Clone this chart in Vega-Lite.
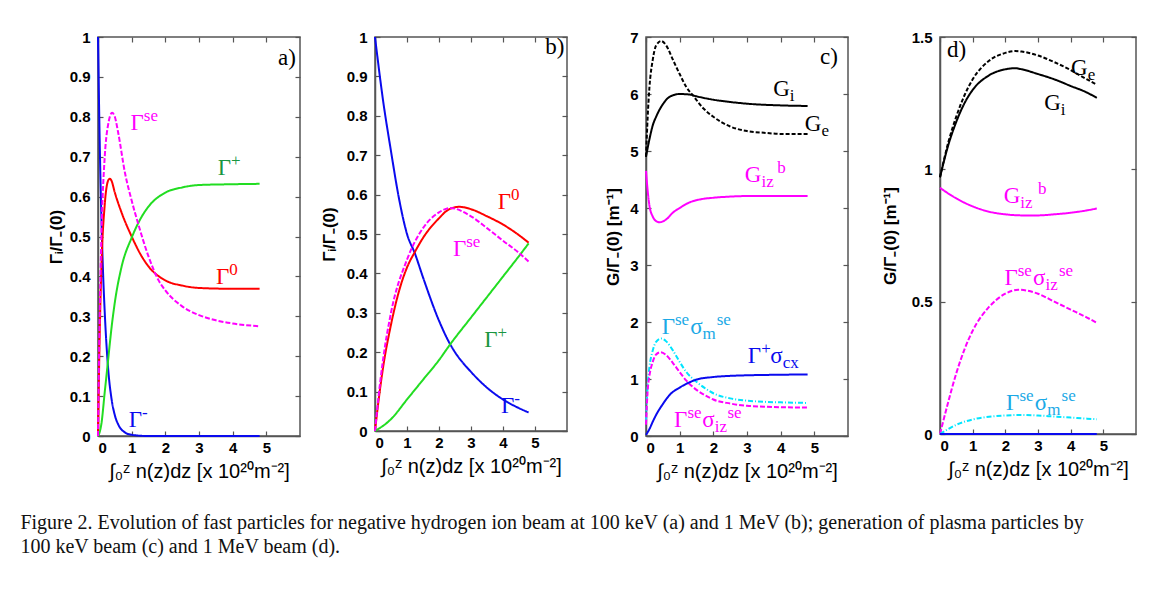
{
"$schema": "https://vega.github.io/schema/vega-lite/v6.json",
"background": "white",
"padding": {"left": 20, "top": 29, "right": 5, "bottom": 5},
"spacing": 34,
"title": {"text": ["Figure 2. Evolution of fast particles for negative hydrogen ion beam at 100 keV (a) and 1 MeV (b); generation of plasma particles by", "100 keV beam (c) and 1 MeV beam (d)."], "orient": "bottom", "anchor": "start", "font": "Liberation Serif", "fontSize": 20, "fontWeight": "normal", "color": "#111", "offset": 31, "lineHeight": 24, "dx": -26},
"config": {
  "view": {"stroke": "#555", "strokeWidth": 1.5},
  "axis": {"domainColor": "#555", "domainWidth": 1.5, "tickColor": "#555", "tickSize": -5, "tickWidth": 1.2, "grid": false, "labelFont": "Liberation Sans", "labelFontWeight": "bold", "labelFontSize": 15, "labelColor": "#000", "titleColor": "#000"},
  "axisX": {"titleFont": "Liberation Sans", "titleFontWeight": "normal", "titleFontSize": 20, "titlePadding": 6, "labelPadding": 9},
  "axisY": {"titleFont": "Liberation Sans", "titleFontWeight": "bold", "titleFontSize": 17, "labelPadding": 13}
},
"datasets": {
  "a": [
    {"s":"minus","x":0,"y":1},{"s":"minus","x":0.05,"y":0.74},{"s":"minus","x":0.1,"y":0.55},{"s":"minus","x":0.15,"y":0.41},{"s":"minus","x":0.2,"y":0.31},{"s":"minus","x":0.3,"y":0.17},{"s":"minus","x":0.4,"y":0.094},{"s":"minus","x":0.5,"y":0.052},{"s":"minus","x":0.6,"y":0.029},{"s":"minus","x":0.8,"y":0.009},{"s":"minus","x":1.0,"y":0.003},{"s":"minus","x":1.5,"y":0},{"s":"minus","x":2,"y":0},{"s":"minus","x":3,"y":0},{"s":"minus","x":4,"y":0},{"s":"minus","x":4.8,"y":0},
    {"s":"zero","x":0,"y":0},{"s":"zero","x":0.05,"y":0.25},{"s":"zero","x":0.1,"y":0.42},{"s":"zero","x":0.2,"y":0.58},{"s":"zero","x":0.3,"y":0.64},{"s":"zero","x":0.35,"y":0.645},{"s":"zero","x":0.4,"y":0.64},{"s":"zero","x":0.5,"y":0.61},{"s":"zero","x":0.7,"y":0.56},{"s":"zero","x":1.0,"y":0.5},{"s":"zero","x":1.3,"y":0.45},{"s":"zero","x":1.5,"y":0.425},{"s":"zero","x":2,"y":0.39},{"s":"zero","x":2.5,"y":0.377},{"s":"zero","x":3,"y":0.371},{"s":"zero","x":4,"y":0.369},{"s":"zero","x":4.8,"y":0.369},
    {"s":"plus","x":0,"y":0},{"s":"plus","x":0.05,"y":0.01},{"s":"plus","x":0.1,"y":0.03},{"s":"plus","x":0.2,"y":0.11},{"s":"plus","x":0.3,"y":0.19},{"s":"plus","x":0.4,"y":0.27},{"s":"plus","x":0.5,"y":0.335},{"s":"plus","x":0.7,"y":0.424},{"s":"plus","x":1.0,"y":0.497},{"s":"plus","x":1.3,"y":0.55},{"s":"plus","x":1.5,"y":0.575},{"s":"plus","x":2,"y":0.61},{"s":"plus","x":2.5,"y":0.623},{"s":"plus","x":3,"y":0.629},{"s":"plus","x":4,"y":0.631},{"s":"plus","x":4.8,"y":0.632},
    {"s":"se","x":0,"y":0},{"s":"se","x":0.05,"y":0.3},{"s":"se","x":0.1,"y":0.5},{"s":"se","x":0.2,"y":0.7},{"s":"se","x":0.3,"y":0.78},{"s":"se","x":0.42,"y":0.81},{"s":"se","x":0.5,"y":0.8},{"s":"se","x":0.6,"y":0.76},{"s":"se","x":0.8,"y":0.66},{"s":"se","x":1.0,"y":0.59},{"s":"se","x":1.2,"y":0.53},{"s":"se","x":1.5,"y":0.45},{"s":"se","x":1.8,"y":0.39},{"s":"se","x":2.0,"y":0.365},{"s":"se","x":2.5,"y":0.325},{"s":"se","x":3.0,"y":0.303},{"s":"se","x":3.5,"y":0.29},{"s":"se","x":4,"y":0.282},{"s":"se","x":4.8,"y":0.275}
  ],
  "b": [
    {"s":"minus","x":0,"y":1},{"s":"minus","x":0.25,"y":0.84},{"s":"minus","x":0.5,"y":0.71},{"s":"minus","x":0.75,"y":0.59},{"s":"minus","x":1,"y":0.5},{"s":"minus","x":1.25,"y":0.45},{"s":"minus","x":1.5,"y":0.39},{"s":"minus","x":2,"y":0.28},{"s":"minus","x":2.35,"y":0.22},{"s":"minus","x":2.5,"y":0.2},{"s":"minus","x":3,"y":0.15},{"s":"minus","x":3.5,"y":0.11},{"s":"minus","x":4,"y":0.08},{"s":"minus","x":4.5,"y":0.058},{"s":"minus","x":4.8,"y":0.047},
    {"s":"zero","x":0,"y":0},{"s":"zero","x":0.1,"y":0.07},{"s":"zero","x":0.25,"y":0.16},{"s":"zero","x":0.5,"y":0.27},{"s":"zero","x":0.75,"y":0.355},{"s":"zero","x":1,"y":0.415},{"s":"zero","x":1.25,"y":0.455},{"s":"zero","x":1.5,"y":0.49},{"s":"zero","x":2,"y":0.54},{"s":"zero","x":2.3,"y":0.562},{"s":"zero","x":2.63,"y":0.569},{"s":"zero","x":3,"y":0.563},{"s":"zero","x":3.5,"y":0.545},{"s":"zero","x":4,"y":0.524},{"s":"zero","x":4.5,"y":0.497},{"s":"zero","x":4.8,"y":0.478},
    {"s":"plus","x":0,"y":0},{"s":"plus","x":0.5,"y":0.03},{"s":"plus","x":1,"y":0.08},{"s":"plus","x":1.5,"y":0.13},{"s":"plus","x":2,"y":0.18},{"s":"plus","x":2.35,"y":0.22},{"s":"plus","x":3,"y":0.288},{"s":"plus","x":3.5,"y":0.34},{"s":"plus","x":4,"y":0.392},{"s":"plus","x":4.5,"y":0.444},{"s":"plus","x":4.8,"y":0.476},
    {"s":"se","x":0,"y":0},{"s":"se","x":0.1,"y":0.08},{"s":"se","x":0.25,"y":0.18},{"s":"se","x":0.5,"y":0.3},{"s":"se","x":1,"y":0.435},{"s":"se","x":1.5,"y":0.515},{"s":"se","x":2,"y":0.555},{"s":"se","x":2.35,"y":0.566},{"s":"se","x":3,"y":0.545},{"s":"se","x":3.5,"y":0.515},{"s":"se","x":4,"y":0.483},{"s":"se","x":4.5,"y":0.452},{"s":"se","x":4.8,"y":0.43}
  ],
  "c": [
    {"s":"Gi","x":0,"y":4.9},{"s":"Gi","x":0.1,"y":5.2},{"s":"Gi","x":0.2,"y":5.45},{"s":"Gi","x":0.3,"y":5.6},{"s":"Gi","x":0.5,"y":5.82},{"s":"Gi","x":0.7,"y":5.95},{"s":"Gi","x":1,"y":6.0},{"s":"Gi","x":1.3,"y":5.99},{"s":"Gi","x":1.5,"y":5.96},{"s":"Gi","x":2,"y":5.9},{"s":"Gi","x":2.5,"y":5.86},{"s":"Gi","x":3,"y":5.83},{"s":"Gi","x":4,"y":5.8},{"s":"Gi","x":4.8,"y":5.79},
    {"s":"Ge","x":0,"y":4.9},{"s":"Ge","x":0.05,"y":5.6},{"s":"Ge","x":0.1,"y":6.1},{"s":"Ge","x":0.2,"y":6.6},{"s":"Ge","x":0.3,"y":6.85},{"s":"Ge","x":0.45,"y":6.93},{"s":"Ge","x":0.6,"y":6.85},{"s":"Ge","x":0.8,"y":6.6},{"s":"Ge","x":1,"y":6.35},{"s":"Ge","x":1.2,"y":6.12},{"s":"Ge","x":1.4,"y":5.97},{"s":"Ge","x":1.7,"y":5.75},{"s":"Ge","x":2,"y":5.6},{"s":"Ge","x":2.5,"y":5.43},{"s":"Ge","x":3,"y":5.35},{"s":"Ge","x":3.5,"y":5.32},{"s":"Ge","x":4,"y":5.3},{"s":"Ge","x":4.8,"y":5.3},
    {"s":"Gizb","x":0,"y":4.65},{"s":"Gizb","x":0.05,"y":4.3},{"s":"Gizb","x":0.1,"y":4.05},{"s":"Gizb","x":0.2,"y":3.85},{"s":"Gizb","x":0.3,"y":3.77},{"s":"Gizb","x":0.4,"y":3.75},{"s":"Gizb","x":0.6,"y":3.8},{"s":"Gizb","x":0.8,"y":3.92},{"s":"Gizb","x":1,"y":4.0},{"s":"Gizb","x":1.3,"y":4.1},{"s":"Gizb","x":1.6,"y":4.15},{"s":"Gizb","x":2,"y":4.18},{"s":"Gizb","x":2.5,"y":4.2},{"s":"Gizb","x":3,"y":4.21},{"s":"Gizb","x":4.8,"y":4.21},
    {"s":"sem","x":0,"y":0.25},{"s":"sem","x":0.05,"y":0.9},{"s":"sem","x":0.1,"y":1.2},{"s":"sem","x":0.2,"y":1.5},{"s":"sem","x":0.3,"y":1.65},{"s":"sem","x":0.45,"y":1.71},{"s":"sem","x":0.6,"y":1.66},{"s":"sem","x":0.8,"y":1.5},{"s":"sem","x":1,"y":1.3},{"s":"sem","x":1.2,"y":1.12},{"s":"sem","x":1.5,"y":0.95},{"s":"sem","x":1.8,"y":0.82},{"s":"sem","x":2,"y":0.75},{"s":"sem","x":2.5,"y":0.66},{"s":"sem","x":3,"y":0.62},{"s":"sem","x":3.5,"y":0.6},{"s":"sem","x":4,"y":0.59},{"s":"sem","x":4.8,"y":0.58},
    {"s":"seiz","x":0,"y":0.2},{"s":"seiz","x":0.05,"y":0.8},{"s":"seiz","x":0.1,"y":1.05},{"s":"seiz","x":0.2,"y":1.3},{"s":"seiz","x":0.3,"y":1.43},{"s":"seiz","x":0.43,"y":1.47},{"s":"seiz","x":0.6,"y":1.42},{"s":"seiz","x":0.8,"y":1.28},{"s":"seiz","x":1,"y":1.12},{"s":"seiz","x":1.2,"y":0.97},{"s":"seiz","x":1.5,"y":0.81},{"s":"seiz","x":1.8,"y":0.7},{"s":"seiz","x":2,"y":0.64},{"s":"seiz","x":2.5,"y":0.57},{"s":"seiz","x":3,"y":0.53},{"s":"seiz","x":3.5,"y":0.515},{"s":"seiz","x":4,"y":0.505},{"s":"seiz","x":4.8,"y":0.5},
    {"s":"pcx","x":0,"y":0.02},{"s":"pcx","x":0.1,"y":0.12},{"s":"pcx","x":0.2,"y":0.25},{"s":"pcx","x":0.3,"y":0.37},{"s":"pcx","x":0.5,"y":0.56},{"s":"pcx","x":0.7,"y":0.72},{"s":"pcx","x":1,"y":0.85},{"s":"pcx","x":1.25,"y":0.93},{"s":"pcx","x":1.5,"y":0.99},{"s":"pcx","x":2,"y":1.035},{"s":"pcx","x":2.5,"y":1.055},{"s":"pcx","x":3,"y":1.065},{"s":"pcx","x":4,"y":1.075},{"s":"pcx","x":4.8,"y":1.08}
  ],
  "d": [
    {"s":"Ge","x":0,"y":0.97},{"s":"Ge","x":0.25,"y":1.1},{"s":"Ge","x":0.5,"y":1.2},{"s":"Ge","x":0.75,"y":1.28},{"s":"Ge","x":1,"y":1.34},{"s":"Ge","x":1.5,"y":1.41},{"s":"Ge","x":2,"y":1.44},{"s":"Ge","x":2.3,"y":1.447},{"s":"Ge","x":2.5,"y":1.445},{"s":"Ge","x":3,"y":1.43},{"s":"Ge","x":3.5,"y":1.405},{"s":"Ge","x":4,"y":1.375},{"s":"Ge","x":4.5,"y":1.34},{"s":"Ge","x":4.8,"y":1.32},
    {"s":"Gi","x":0,"y":0.97},{"s":"Gi","x":0.25,"y":1.09},{"s":"Gi","x":0.5,"y":1.18},{"s":"Gi","x":0.75,"y":1.25},{"s":"Gi","x":1,"y":1.3},{"s":"Gi","x":1.5,"y":1.355},{"s":"Gi","x":2,"y":1.378},{"s":"Gi","x":2.3,"y":1.382},{"s":"Gi","x":2.5,"y":1.378},{"s":"Gi","x":3,"y":1.36},{"s":"Gi","x":3.5,"y":1.34},{"s":"Gi","x":4,"y":1.315},{"s":"Gi","x":4.5,"y":1.29},{"s":"Gi","x":4.8,"y":1.27},
    {"s":"Gizb","x":0,"y":0.93},{"s":"Gizb","x":0.5,"y":0.89},{"s":"Gizb","x":1,"y":0.86},{"s":"Gizb","x":1.5,"y":0.84},{"s":"Gizb","x":2,"y":0.83},{"s":"Gizb","x":2.5,"y":0.826},{"s":"Gizb","x":3,"y":0.826},{"s":"Gizb","x":3.5,"y":0.83},{"s":"Gizb","x":4,"y":0.836},{"s":"Gizb","x":4.5,"y":0.845},{"s":"Gizb","x":4.8,"y":0.852},
    {"s":"seiz","x":0,"y":0},{"s":"seiz","x":0.25,"y":0.12},{"s":"seiz","x":0.5,"y":0.23},{"s":"seiz","x":0.75,"y":0.32},{"s":"seiz","x":1,"y":0.39},{"s":"seiz","x":1.5,"y":0.48},{"s":"seiz","x":2,"y":0.53},{"s":"seiz","x":2.4,"y":0.545},{"s":"seiz","x":3,"y":0.53},{"s":"seiz","x":3.5,"y":0.5},{"s":"seiz","x":4,"y":0.47},{"s":"seiz","x":4.5,"y":0.44},{"s":"seiz","x":4.8,"y":0.42},
    {"s":"sem","x":0,"y":0},{"s":"sem","x":0.5,"y":0.035},{"s":"sem","x":1,"y":0.055},{"s":"sem","x":1.5,"y":0.065},{"s":"sem","x":2,"y":0.07},{"s":"sem","x":2.5,"y":0.072},{"s":"sem","x":3,"y":0.07},{"s":"sem","x":3.5,"y":0.066},{"s":"sem","x":4,"y":0.062},{"s":"sem","x":4.5,"y":0.058},{"s":"sem","x":4.8,"y":0.056},
    {"s":"pcx","x":0,"y":0},{"s":"pcx","x":1,"y":0},{"s":"pcx","x":2,"y":0},{"s":"pcx","x":3,"y":0},{"s":"pcx","x":4,"y":0},{"s":"pcx","x":4.8,"y":0}
  ],
  "labels": [
    {"p":"a","k":"base","x":5.88,"y":0.93,"t":"a)","c":"black"},
    {"p":"a","k":"base","x":1.36,"y":0.7675,"t":"Γ","c":"se"},{"p":"a","k":"sup","x":1.36,"y":0.7675,"t":"se","c":"se"},
    {"p":"a","k":"base","x":3.95,"y":0.655,"t":"Γ","c":"plusL"},{"p":"a","k":"sup","x":3.95,"y":0.655,"t":"+","c":"plusL"},
    {"p":"a","k":"base","x":3.9,"y":0.38,"t":"Γ","c":"zero"},{"p":"a","k":"sup","x":3.9,"y":0.38,"t":"0","c":"zero"},
    {"p":"a","k":"base","x":1.31,"y":0.0225,"t":"Γ","c":"minus"},{"p":"a","k":"sup","x":1.31,"y":0.0225,"t":"-","c":"minus"},
    {"p":"b","k":"base","x":5.92,"y":0.956,"t":"b)","c":"black"},
    {"p":"b","k":"base","x":4.25,"y":0.5625,"t":"Γ","c":"zero"},{"p":"b","k":"sup","x":4.25,"y":0.5625,"t":"0","c":"zero"},
    {"p":"b","k":"base","x":2.85,"y":0.445,"t":"Γ","c":"se"},{"p":"b","k":"sup","x":2.85,"y":0.445,"t":"se","c":"se"},
    {"p":"b","k":"base","x":3.83,"y":0.213,"t":"Γ","c":"plusL"},{"p":"b","k":"sup","x":3.83,"y":0.213,"t":"+","c":"plusL"},
    {"p":"b","k":"base","x":4.35,"y":0.045,"t":"Γ","c":"minus"},{"p":"b","k":"sup","x":4.35,"y":0.045,"t":"-","c":"minus"},
    {"p":"c","k":"base","x":5.7,"y":6.53,"t":"c)","c":"black"},
    {"p":"c","k":"base","x":4.27,"y":5.97,"t":"G","c":"black"},{"p":"c","k":"sub","x":4.27,"y":5.97,"t":"i","c":"black"},
    {"p":"c","k":"base","x":5.21,"y":5.35,"t":"G","c":"black"},{"p":"c","k":"sub","x":5.21,"y":5.35,"t":"e","c":"black"},
    {"p":"c","k":"base","x":3.43,"y":4.45,"t":"G","c":"Gizb"},{"p":"c","k":"sub","x":3.43,"y":4.45,"t":"iz","c":"Gizb"},{"p":"c","k":"sup","x":3.9,"y":4.45,"t":"b","c":"Gizb"},
    {"p":"c","k":"base","x":0.86,"y":1.785,"t":"Γ","c":"semL"},{"p":"c","k":"sup","x":0.86,"y":1.785,"t":"se","c":"semL"},{"p":"c","k":"base","x":1.68,"y":1.785,"t":"σ","c":"semL"},{"p":"c","k":"sub","x":1.68,"y":1.785,"t":"m","c":"semL"},{"p":"c","k":"sup","x":2.1,"y":1.785,"t":"se","c":"semL"},
    {"p":"c","k":"base","x":3.42,"y":1.277,"t":"Γ","c":"pcx"},{"p":"c","k":"sup","x":3.42,"y":1.277,"t":"+","c":"pcx"},{"p":"c","k":"base","x":4.06,"y":1.277,"t":"σ","c":"pcx"},{"p":"c","k":"sub","x":4.06,"y":1.277,"t":"cx","c":"pcx"},
    {"p":"c","k":"base","x":1.23,"y":0.165,"t":"Γ","c":"seiz"},{"p":"c","k":"sup","x":1.23,"y":0.165,"t":"se","c":"seiz"},{"p":"c","k":"base","x":2.04,"y":0.165,"t":"σ","c":"seiz"},{"p":"c","k":"sub","x":2.04,"y":0.165,"t":"iz","c":"seiz"},{"p":"c","k":"sup","x":2.42,"y":0.165,"t":"se","c":"seiz"},
    {"p":"d","k":"base","x":0.8,"y":1.424,"t":"d)","c":"black"},
    {"p":"d","k":"base","x":4.52,"y":1.358,"t":"G","c":"black"},{"p":"d","k":"sub","x":4.52,"y":1.358,"t":"e","c":"black"},
    {"p":"d","k":"base","x":3.7,"y":1.223,"t":"G","c":"black"},{"p":"d","k":"sub","x":3.7,"y":1.223,"t":"i","c":"black"},
    {"p":"d","k":"base","x":2.46,"y":0.871,"t":"G","c":"Gizb"},{"p":"d","k":"sub","x":2.46,"y":0.871,"t":"iz","c":"Gizb"},{"p":"d","k":"sup","x":3.0,"y":0.871,"t":"b","c":"Gizb"},
    {"p":"d","k":"base","x":2.38,"y":0.5625,"t":"Γ","c":"seiz"},{"p":"d","k":"sup","x":2.38,"y":0.5625,"t":"se","c":"seiz"},{"p":"d","k":"base","x":3.23,"y":0.5625,"t":"σ","c":"seiz"},{"p":"d","k":"sub","x":3.23,"y":0.5625,"t":"iz","c":"seiz"},{"p":"d","k":"sup","x":3.64,"y":0.5625,"t":"se","c":"seiz"},
    {"p":"d","k":"base","x":2.43,"y":0.091,"t":"Γ","c":"semL"},{"p":"d","k":"sup","x":2.43,"y":0.091,"t":"se","c":"semL"},{"p":"d","k":"base","x":3.28,"y":0.091,"t":"σ","c":"semL"},{"p":"d","k":"sub","x":3.28,"y":0.091,"t":"m","c":"semL"},{"p":"d","k":"sup","x":3.72,"y":0.091,"t":"se","c":"semL"}
  ]
},
"hconcat": [
 {"spacing": 17, "hconcat": [
  {
    "width": 202, "height": 399,
    "resolve": {"axis": {"x": "independent", "y": "independent"}},
    "layer": [
      {"data": {"name": "a"}, "mark": {"type": "line", "strokeWidth": 2, "interpolate": "monotone"},
       "encoding": {
         "x": {"field": "x", "type": "quantitative", "scale": {"domain": [0, 6], "nice": false}, "axis": {"values": [0,1,2,3,4,5], "format": "~g", "title": "∫₀ᶻ n(z)dz [x 10²⁰m⁻²]"}},
         "y": {"field": "y", "type": "quantitative", "scale": {"domain": [0, 1], "nice": false}, "axis": {"values": [0,0.1,0.2,0.3,0.4,0.5,0.6,0.7,0.8,0.9,1], "format": "~g", "title": "Γᵢ/Γ₋(0)", "titlePadding": 4}},
         "color": {"field": "s", "type": "nominal", "legend": null, "scale": {"domain": ["minus","zero","plus","se","Gi","Ge","Gizb","sem","seiz","pcx","plusL","semL","black"], "range": ["#0a0aee","#ff0000","#22dd22","#ff00ff","#000000","#000000","#ff00ff","#00e5ff","#ff00ff","#0a0aee","#1a9641","#1ba9e6","#000000"]}},
         "strokeDash": {"field": "s", "type": "nominal", "legend": null, "scale": {"domain": ["minus","zero","plus","se","Gi","Ge","Gizb","sem","seiz","pcx"], "range": [[1,0],[1,0],[1,0],[5,2],[1,0],[4,2],[1,0],[5,2,1,2],[5,2],[1,0]]}}
       }},
      {"data": {"name": "labels"}, "transform": [{"filter": "datum.p == 'a' && datum.k == 'base'"}],
       "mark": {"type": "text", "align": "right", "baseline": "alphabetic", "font": "Liberation Serif", "fontSize": 23},
       "encoding": {
         "x": {"field": "x", "type": "quantitative", "scale": {"domain": [0, 6], "nice": false}, "axis": {"orient": "top", "values": [0,1,2,3,4,5], "labels": false, "title": null, "domain": false}},
         "y": {"field": "y", "type": "quantitative", "scale": {"domain": [0, 1], "nice": false}, "axis": {"orient": "right", "values": [0,0.1,0.2,0.3,0.4,0.5,0.6,0.7,0.8,0.9,1], "labels": false, "title": null, "domain": false}},
         "text": {"field": "t"},
         "color": {"field": "c", "type": "nominal", "legend": null, "scale": {"domain": ["minus","zero","plus","se","Gi","Ge","Gizb","sem","seiz","pcx","plusL","semL","black"], "range": ["#0a0aee","#ff0000","#22dd22","#ff00ff","#000000","#000000","#ff00ff","#00e5ff","#ff00ff","#0a0aee","#1a9641","#1ba9e6","#000000"]}}
       }},
      {"data": {"name": "labels"}, "transform": [{"filter": "datum.p == 'a' && datum.k == 'sup'"}],
       "mark": {"type": "text", "align": "left", "baseline": "alphabetic", "font": "Liberation Serif", "fontSize": 17, "dy": -9},
       "encoding": {
         "x": {"field": "x", "type": "quantitative", "axis": null},
         "y": {"field": "y", "type": "quantitative", "axis": null},
         "text": {"field": "t"},
         "color": {"field": "c", "type": "nominal", "legend": null}
       }}
    ]
  },
  {
    "width": 192, "height": 394,
    "resolve": {"axis": {"x": "independent", "y": "independent"}},
    "layer": [
      {"data": {"name": "b"}, "mark": {"type": "line", "strokeWidth": 2, "interpolate": "monotone"},
       "encoding": {
         "x": {"field": "x", "type": "quantitative", "scale": {"domain": [0, 6], "nice": false}, "axis": {"values": [0,1,2,3,4,5], "format": "~g", "title": "∫₀ᶻ n(z)dz [x 10²⁰m⁻²]"}},
         "y": {"field": "y", "type": "quantitative", "scale": {"domain": [0, 1], "nice": false}, "axis": {"values": [0,0.1,0.2,0.3,0.4,0.5,0.6,0.7,0.8,0.9,1], "format": "~g", "title": "Γᵢ/Γ₋(0)", "titlePadding": 8}},
         "color": {"field": "s", "type": "nominal", "legend": null, "scale": {"domain": ["minus","zero","plus","se","Gi","Ge","Gizb","sem","seiz","pcx","plusL","semL","black"], "range": ["#0a0aee","#ff0000","#22dd22","#ff00ff","#000000","#000000","#ff00ff","#00e5ff","#ff00ff","#0a0aee","#1a9641","#1ba9e6","#000000"]}},
         "strokeDash": {"field": "s", "type": "nominal", "legend": null, "scale": {"domain": ["minus","zero","plus","se","Gi","Ge","Gizb","sem","seiz","pcx"], "range": [[1,0],[1,0],[1,0],[5,2],[1,0],[4,2],[1,0],[5,2,1,2],[5,2],[1,0]]}}
       }},
      {"data": {"name": "labels"}, "transform": [{"filter": "datum.p == 'b' && datum.k == 'base'"}],
       "mark": {"type": "text", "align": "right", "baseline": "alphabetic", "font": "Liberation Serif", "fontSize": 23},
       "encoding": {
         "x": {"field": "x", "type": "quantitative", "scale": {"domain": [0, 6], "nice": false}, "axis": {"orient": "top", "values": [0,1,2,3,4,5], "labels": false, "title": null, "domain": false}},
         "y": {"field": "y", "type": "quantitative", "scale": {"domain": [0, 1], "nice": false}, "axis": {"orient": "right", "values": [0,0.1,0.2,0.3,0.4,0.5,0.6,0.7,0.8,0.9,1], "labels": false, "title": null, "domain": false}},
         "text": {"field": "t"},
         "color": {"field": "c", "type": "nominal", "legend": null, "scale": {"domain": ["minus","zero","plus","se","Gi","Ge","Gizb","sem","seiz","pcx","plusL","semL","black"], "range": ["#0a0aee","#ff0000","#22dd22","#ff00ff","#000000","#000000","#ff00ff","#00e5ff","#ff00ff","#0a0aee","#1a9641","#1ba9e6","#000000"]}}
       }},
      {"data": {"name": "labels"}, "transform": [{"filter": "datum.p == 'b' && datum.k == 'sup'"}],
       "mark": {"type": "text", "align": "left", "baseline": "alphabetic", "font": "Liberation Serif", "fontSize": 17, "dy": -9},
       "encoding": {
         "x": {"field": "x", "type": "quantitative", "axis": null},
         "y": {"field": "y", "type": "quantitative", "axis": null},
         "text": {"field": "t"},
         "color": {"field": "c", "type": "nominal", "legend": null}
       }}
    ]
  }
 ]},
 {"spacing": 30, "hconcat": [
  {
    "width": 202, "height": 399,
    "resolve": {"axis": {"x": "independent", "y": "independent"}},
    "layer": [
      {"data": {"name": "c"}, "mark": {"type": "line", "strokeWidth": 2, "interpolate": "monotone"},
       "encoding": {
         "x": {"field": "x", "type": "quantitative", "scale": {"domain": [0, 6], "nice": false}, "axis": {"values": [0,1,2,3,4,5], "format": "~g", "title": "∫₀ᶻ n(z)dz [x 10²⁰m⁻²]"}},
         "y": {"field": "y", "type": "quantitative", "scale": {"domain": [0, 7], "nice": false}, "axis": {"values": [0,1,2,3,4,5,6,7], "format": "~g", "title": "G/Γ₋(0) [m⁻¹]", "titlePadding": 7}},
         "color": {"field": "s", "type": "nominal", "legend": null, "scale": {"domain": ["minus","zero","plus","se","Gi","Ge","Gizb","sem","seiz","pcx","plusL","semL","black"], "range": ["#0a0aee","#ff0000","#22dd22","#ff00ff","#000000","#000000","#ff00ff","#00e5ff","#ff00ff","#0a0aee","#1a9641","#1ba9e6","#000000"]}},
         "strokeDash": {"field": "s", "type": "nominal", "legend": null, "scale": {"domain": ["minus","zero","plus","se","Gi","Ge","Gizb","sem","seiz","pcx"], "range": [[1,0],[1,0],[1,0],[5,2],[1,0],[4,2],[1,0],[5,2,1,2],[5,2],[1,0]]}}
       }},
      {"data": {"name": "labels"}, "transform": [{"filter": "datum.p == 'c' && datum.k == 'base'"}],
       "mark": {"type": "text", "align": "right", "baseline": "alphabetic", "font": "Liberation Serif", "fontSize": 23},
       "encoding": {
         "x": {"field": "x", "type": "quantitative", "scale": {"domain": [0, 6], "nice": false}, "axis": {"orient": "top", "values": [0,1,2,3,4,5], "labels": false, "title": null, "domain": false}},
         "y": {"field": "y", "type": "quantitative", "scale": {"domain": [0, 7], "nice": false}, "axis": {"orient": "right", "values": [0,1,2,3,4,5,6,7], "labels": false, "title": null, "domain": false}},
         "text": {"field": "t"},
         "color": {"field": "c", "type": "nominal", "legend": null, "scale": {"domain": ["minus","zero","plus","se","Gi","Ge","Gizb","sem","seiz","pcx","plusL","semL","black"], "range": ["#0a0aee","#ff0000","#22dd22","#ff00ff","#000000","#000000","#ff00ff","#00e5ff","#ff00ff","#0a0aee","#1a9641","#1ba9e6","#000000"]}}
       }},
      {"data": {"name": "labels"}, "transform": [{"filter": "datum.p == 'c' && datum.k == 'sup'"}],
       "mark": {"type": "text", "align": "left", "baseline": "alphabetic", "font": "Liberation Serif", "fontSize": 17, "dy": -9},
       "encoding": {
         "x": {"field": "x", "type": "quantitative", "axis": null},
         "y": {"field": "y", "type": "quantitative", "axis": null},
         "text": {"field": "t"},
         "color": {"field": "c", "type": "nominal", "legend": null}
       }},
      {"data": {"name": "labels"}, "transform": [{"filter": "datum.p == 'c' && datum.k == 'sub'"}],
       "mark": {"type": "text", "align": "left", "baseline": "alphabetic", "font": "Liberation Serif", "fontSize": 17, "dy": 5},
       "encoding": {
         "x": {"field": "x", "type": "quantitative", "axis": null},
         "y": {"field": "y", "type": "quantitative", "axis": null},
         "text": {"field": "t"},
         "color": {"field": "c", "type": "nominal", "legend": null}
       }}
    ]
  },
  {
    "width": 196, "height": 397,
    "resolve": {"axis": {"x": "independent", "y": "independent"}},
    "layer": [
      {"data": {"name": "d"}, "mark": {"type": "line", "strokeWidth": 2, "interpolate": "monotone"},
       "encoding": {
         "x": {"field": "x", "type": "quantitative", "scale": {"domain": [0, 6], "nice": false}, "axis": {"values": [0,1,2,3,4,5], "format": "~g", "title": "∫₀ᶻ n(z)dz [x 10²⁰m⁻²]"}},
         "y": {"field": "y", "type": "quantitative", "scale": {"domain": [0, 1.5], "nice": false}, "axis": {"values": [0,0.5,1,1.5], "format": "~g", "title": "G/Γ₋(0) [m⁻¹]", "titlePadding": 12}},
         "color": {"field": "s", "type": "nominal", "legend": null, "scale": {"domain": ["minus","zero","plus","se","Gi","Ge","Gizb","sem","seiz","pcx","plusL","semL","black"], "range": ["#0a0aee","#ff0000","#22dd22","#ff00ff","#000000","#000000","#ff00ff","#00e5ff","#ff00ff","#0a0aee","#1a9641","#1ba9e6","#000000"]}},
         "strokeDash": {"field": "s", "type": "nominal", "legend": null, "scale": {"domain": ["minus","zero","plus","se","Gi","Ge","Gizb","sem","seiz","pcx"], "range": [[1,0],[1,0],[1,0],[5,2],[1,0],[4,2],[1,0],[5,2,1,2],[5,2],[1,0]]}}
       }},
      {"data": {"name": "labels"}, "transform": [{"filter": "datum.p == 'd' && datum.k == 'base'"}],
       "mark": {"type": "text", "align": "right", "baseline": "alphabetic", "font": "Liberation Serif", "fontSize": 23},
       "encoding": {
         "x": {"field": "x", "type": "quantitative", "scale": {"domain": [0, 6], "nice": false}, "axis": {"orient": "top", "values": [0,1,2,3,4,5], "labels": false, "title": null, "domain": false}},
         "y": {"field": "y", "type": "quantitative", "scale": {"domain": [0, 1.5], "nice": false}, "axis": {"orient": "right", "values": [0,0.5,1,1.5], "labels": false, "title": null, "domain": false}},
         "text": {"field": "t"},
         "color": {"field": "c", "type": "nominal", "legend": null, "scale": {"domain": ["minus","zero","plus","se","Gi","Ge","Gizb","sem","seiz","pcx","plusL","semL","black"], "range": ["#0a0aee","#ff0000","#22dd22","#ff00ff","#000000","#000000","#ff00ff","#00e5ff","#ff00ff","#0a0aee","#1a9641","#1ba9e6","#000000"]}}
       }},
      {"data": {"name": "labels"}, "transform": [{"filter": "datum.p == 'd' && datum.k == 'sup'"}],
       "mark": {"type": "text", "align": "left", "baseline": "alphabetic", "font": "Liberation Serif", "fontSize": 17, "dy": -9},
       "encoding": {
         "x": {"field": "x", "type": "quantitative", "axis": null},
         "y": {"field": "y", "type": "quantitative", "axis": null},
         "text": {"field": "t"},
         "color": {"field": "c", "type": "nominal", "legend": null}
       }},
      {"data": {"name": "labels"}, "transform": [{"filter": "datum.p == 'd' && datum.k == 'sub'"}],
       "mark": {"type": "text", "align": "left", "baseline": "alphabetic", "font": "Liberation Serif", "fontSize": 17, "dy": 5},
       "encoding": {
         "x": {"field": "x", "type": "quantitative", "axis": null},
         "y": {"field": "y", "type": "quantitative", "axis": null},
         "text": {"field": "t"},
         "color": {"field": "c", "type": "nominal", "legend": null}
       }}
    ]
  }
 ]}
]
}
